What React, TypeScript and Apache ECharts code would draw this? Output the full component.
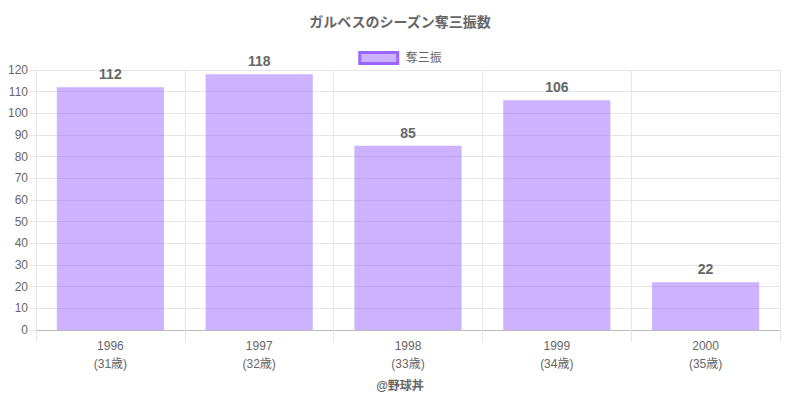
import React, { useEffect, useRef } from "react";
import * as echarts from "echarts";

const title = "ガルベスのシーズン奪三振数";
const seriesName = "奪三振";
const years = ["1996", "1997", "1998", "1999", "2000"];
const ages = ["(31歳)", "(32歳)", "(33歳)", "(34歳)", "(35歳)"];
const strikeouts = [112, 118, 85, 106, 22];
const credit = "@野球丼";

const FONT = "'Liberation Sans', 'Noto Sans CJK JP', sans-serif";

export default function App() {
  const ref = useRef<HTMLDivElement>(null);
  useEffect(() => {
    if (!ref.current) return;
    const chart = echarts.init(ref.current, null, { renderer: "svg" });
    const categories = years.map((y, i) => `${y}\n${ages[i]}`);
    chart.setOption({
      animation: false,
      textStyle: { fontFamily: FONT },
      title: {
        text: title,
        left: "center",
        top: 10,
        textStyle: { fontSize: 14, fontWeight: "bold", color: "#666", fontFamily: FONT },
      },
      legend: {
        top: 46,
        left: "center",
        itemWidth: 38,
        itemHeight: 11,
        itemGap: 10,
        textStyle: { color: "#666", fontSize: 12, fontFamily: FONT, padding: [0, 0, 0, 3] },
        data: [
          {
            name: seriesName,
            icon: "rect",
            itemStyle: { color: "rgba(153,102,255,0.5)", borderColor: "#9966FF", borderWidth: 3 },
          },
        ],
      },
      graphic: [
        {
          type: "text",
          left: "center",
          top: 380,
          style: { text: credit, fill: "#666", font: `bold 12px ${FONT}` },
        },
      ],
      grid: { left: 36, right: 20, top: 70, bottom: 70, containLabel: false },
      xAxis: {
        type: "category",
        data: categories,
        boundaryGap: true,
        axisLine: { show: true, lineStyle: { color: "#bbb" } },
        axisTick: { show: true, interval: 0, length: 12, lineStyle: { color: "#e5e5e5" } },
        splitLine: { show: true, interval: 0, lineStyle: { color: "#e5e5e5" } },
        axisLabel: { color: "#666", fontSize: 12, lineHeight: 18, margin: 7, interval: 0, fontFamily: FONT },
      },
      yAxis: {
        type: "value",
        min: 0,
        max: 120,
        interval: 10,
        axisLine: { show: true, lineStyle: { color: "#e5e5e5" } },
        axisTick: { show: true, length: 6, lineStyle: { color: "#e5e5e5" } },
        splitLine: { show: true, lineStyle: { color: "#e5e5e5" } },
        axisLabel: { color: "#666", fontSize: 12, margin: 8, fontFamily: FONT },
      },
      series: [
        {
          name: seriesName,
          type: "bar",
          data: strikeouts,
          barWidth: "72%",
          itemStyle: { color: "rgba(153,102,255,0.5)" },
          label: {
            show: true,
            position: "top",
            distance: 6,
            color: "#666",
            fontSize: 14,
            fontWeight: "bold",
            fontFamily: FONT,
          },
        },
      ],
    });
    return () => chart.dispose();
  }, []);
  return (
    <div
      ref={ref}
      style={{ position: "absolute", left: 0, top: 0, width: 800, height: 400 }}
    />
  );
}
